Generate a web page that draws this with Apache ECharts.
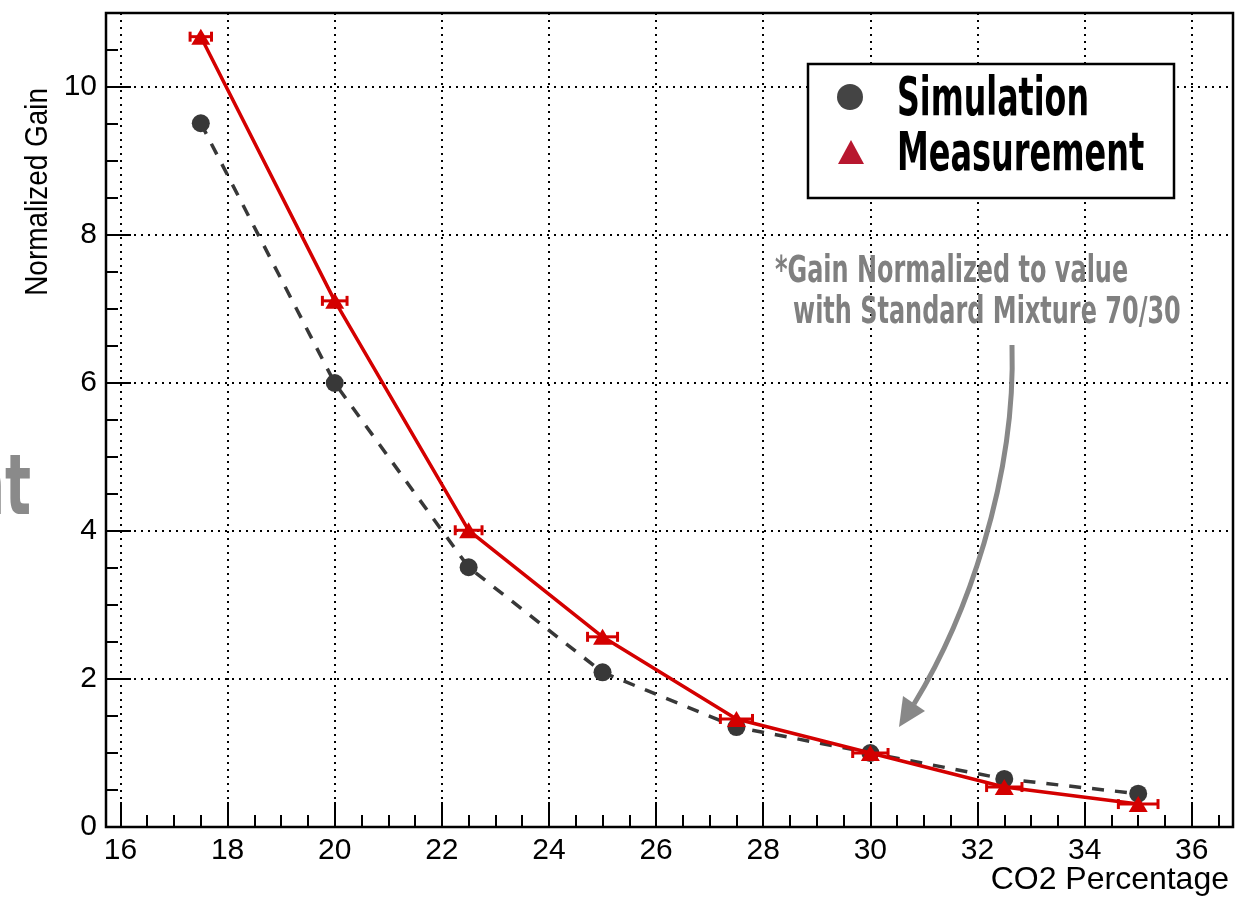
<!DOCTYPE html>
<html>
<head>
<meta charset="utf-8">
<title>Normalized Gain vs CO2</title>
<script src="https://cdn.jsdelivr.net/npm/echarts@6/dist/echarts.min.js"></script>
<style>
html, body { margin: 0; padding: 0; background: #fff; }
#main { width: 1254px; height: 897px; }
</style>
</head>
<body>
<div id="main"></div>
<script>
// 数据
var co2 = [17.5, 20, 22.5, 25, 27.5, 30, 32.5, 35];
var simGain = [9.51, 6.0, 3.51, 2.09, 1.35, 1.0, 0.65, 0.45];
var measGain = [10.68, 7.11, 4.01, 2.57, 1.46, 1.0, 0.54, 0.31];
var measErrX = [0.2, 0.23, 0.25, 0.28, 0.3, 0.33, 0.33, 0.37];

// tick positions
var xTicks = [16, 18, 20, 22, 24, 26, 28, 30, 32, 34, 36];
var xMinorTicks = [16.5, 17, 17.5, 18.5, 19, 19.5, 20.5, 21, 21.5, 22.5, 23, 23.5, 24.5, 25, 25.5,
	26.5, 27, 27.5, 28.5, 29, 29.5, 30.5, 31, 31.5, 32.5, 33, 33.5, 34.5, 35, 35.5, 36.5];
var yTicks = [0, 2, 4, 6, 8, 10];
var yMinorTicks = [0.5, 1, 1.5, 2.5, 3, 3.5, 4.5, 5, 5.5, 6.5, 7, 7.5, 8.5, 9, 9.5, 10.5];

var labelFont = 'Liberation Sans, Arial, sans-serif';
var narrowFont = '"DejaVu Sans Condensed", "DejaVu Sans", sans-serif';

var simData = [], measData = [], errData = [];
for (var i = 0; i < co2.length; i++) {
	simData.push([co2[i], simGain[i]]);
	measData.push([co2[i], measGain[i]]);
	errData.push([co2[i], measGain[i], measErrX[i]]);
}

// 误差棒
function renderErr(params, api) {
	var x = api.value(0), y = api.value(1), e = api.value(2);
	var p1 = api.coord([x - e, y]);
	var p2 = api.coord([x + e, y]);
	var cap = 5;
	var st = { stroke: '#d40000', lineWidth: 3 };
	return {
		type: 'group',
		children: [
			{ type: 'line', shape: { x1: p1[0], y1: p1[1], x2: p2[0], y2: p2[1] }, style: st },
			{ type: 'line', shape: { x1: p1[0], y1: p1[1] - cap, x2: p1[0], y2: p1[1] + cap }, style: st },
			{ type: 'line', shape: { x1: p2[0], y1: p2[1] - cap, x2: p2[0], y2: p2[1] + cap }, style: st }
		]
	};
}

// 压窄的粗体文字 (no condensed DIN font here)
function narrowText(txt, x, y, size, color, sx, align) {
	return {
		type: 'text', x: x, y: y, scaleX: sx, z: 20,
		style: { text: txt, fill: color, font: 'bold ' + size + 'px ' + narrowFont,
			textAlign: align || 'left', textVerticalAlign: 'middle' }
	};
}

var myChart = echarts.init(document.getElementById('main'));
var option = {
	animation: false,
	backgroundColor: '#fff',
	grid: {
		left: 106, right: 21, top: 13, bottom: 70,
		show: true, borderColor: '#000', borderWidth: 2.5, backgroundColor: 'transparent'
	},
	xAxis: [{
		type: 'value', min: 15.73, max: 36.77, position: 'bottom',
		axisLine: { show: false },
		axisTick: { inside: true, length: 25, customValues: xTicks, lineStyle: { color: '#000', width: 2 } },
		axisLabel: { customValues: xTicks, fontFamily: labelFont, fontSize: 30, color: '#000', margin: 9 },
		splitLine: { show: true, lineStyle: { type: [2, 5], color: '#000', width: 2 } }
	}, {
		type: 'value', min: 15.73, max: 36.77, position: 'bottom',
		axisLine: { show: false },
		axisTick: { inside: true, length: 12, customValues: xMinorTicks, lineStyle: { color: '#000', width: 2 } },
		axisLabel: { show: false },
		splitLine: { show: false }
	}],
	yAxis: [{
		type: 'value', min: 0, max: 11, position: 'left',
		axisLine: { show: false },
		axisTick: { inside: true, length: 25, customValues: yTicks, lineStyle: { color: '#000', width: 2 } },
		axisLabel: { customValues: yTicks, fontFamily: labelFont, fontSize: 30, color: '#000', margin: 9 },
		splitLine: { show: true, lineStyle: { type: [2, 5], color: '#000', width: 2 } }
	}, {
		type: 'value', min: 0, max: 11, position: 'left',
		axisLine: { show: false },
		axisTick: { inside: true, length: 12, customValues: yMinorTicks, lineStyle: { color: '#000', width: 2 } },
		axisLabel: { show: false },
		splitLine: { show: false }
	}],
	series: [{
		name: 'Simulation',
		type: 'line',
		data: simData,
		symbol: 'circle',
		symbolSize: 18,
		z: 3,
		itemStyle: { color: '#383838' },
		lineStyle: { color: '#383838', width: 3.5, type: [12, 11] }
	}, {
		name: 'MeasErr',
		type: 'custom',
		data: errData,
		renderItem: renderErr,
		z: 4,
		silent: true
	}, {
		name: 'Measurement',
		type: 'line',
		data: measData,
		symbol: 'triangle',
		symbolSize: [19, 16],
		z: 5,
		itemStyle: { color: '#d40000' },
		lineStyle: { color: '#d40000', width: 3.5 }
	}],
	graphic: [
		narrowText('nt', 31, 492, 84, '#8a8a8a', 0.72, 'right'),
		{
			type: 'text', x: 38, y: 88, rotation: Math.PI / 2, scaleX: 0.9, z: 10,
			style: { text: 'Normalized Gain', fill: '#000', font: '31px ' + labelFont, textAlign: 'right', textVerticalAlign: 'middle' }
		},
		{
			type: 'text', x: 1229, y: 880, z: 10,
			style: { text: 'CO2 Percentage', fill: '#000', font: '32px ' + labelFont, textAlign: 'right', textVerticalAlign: 'middle' }
		},
		// 图例
		{
			type: 'rect', z: 15,
			shape: { x: 808, y: 64, width: 366, height: 134 },
			style: { fill: '#fff', stroke: '#000', lineWidth: 2.5 }
		},
		{
			type: 'circle', z: 20,
			shape: { cx: 850, cy: 97, r: 13 },
			style: { fill: '#444' }
		},
		{
			type: 'polygon', z: 20,
			shape: { points: [[838, 164], [864, 164], [851, 140]] },
			style: { fill: '#b8172f' }
		},
		narrowText('Simulation', 897, 101, 53, '#000', 0.665),
		narrowText('Measurement', 897, 156, 53, '#000', 0.67),
		// 注释
		narrowText('*Gain Normalized to value', 775, 272, 37, '#808080', 0.72),
		narrowText('with Standard Mixture 70/30', 793, 313, 37, '#808080', 0.72),
		{
			type: 'bezierCurve', z: 10,
			shape: { x1: 1012, y1: 345, cpx1: 1016, cpy1: 480, cpx2: 966, cpy2: 619, x2: 914, y2: 704 },
			style: { stroke: '#888', lineWidth: 5, fill: null }
		},
		{
			type: 'polygon', z: 10,
			shape: { points: [[925, 711], [903, 696], [899, 727]] },
			style: { fill: '#888' }
		}
	]
};
myChart.setOption(option);
</script>
</body>
</html>
